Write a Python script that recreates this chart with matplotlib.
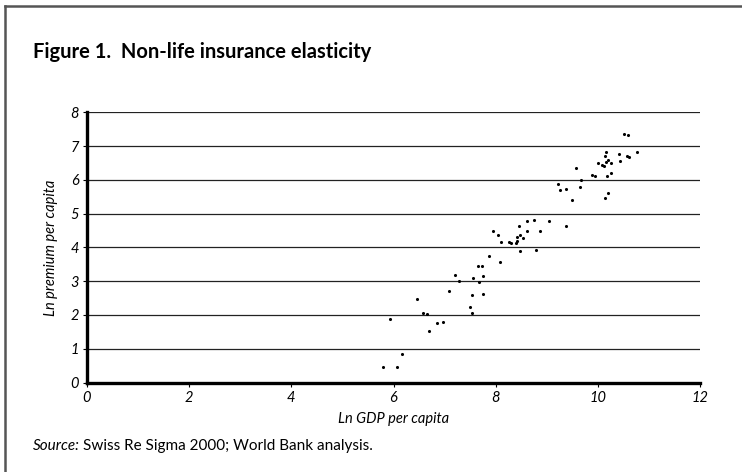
import matplotlib
matplotlib.use("Agg")
import matplotlib.pyplot as plt
from matplotlib.lines import Line2D

ln_gdp = [5.80, 6.07, 6.16, 5.94, 6.46, 6.58, 6.65, 6.70, 6.86, 6.97,
          7.08, 7.21, 7.29, 7.50, 7.53, 7.53, 7.56, 7.66, 7.68, 7.73,
          7.76, 7.76, 7.87, 7.95, 8.04, 8.09, 8.11, 8.26, 8.30, 8.40,
          8.42, 8.42, 8.45, 8.47, 8.48, 8.54, 8.61, 8.62, 8.76, 8.79,
          8.86, 9.05, 9.22, 9.26, 9.37, 9.37, 9.50, 9.58, 9.65, 9.67,
          9.88, 9.95, 10.00, 10.09, 10.12, 10.14, 10.15, 10.16, 10.16, 10.18,
          10.19, 10.19, 10.25, 10.26, 10.42, 10.43, 10.52, 10.58, 10.60, 10.61,
          10.76]
ln_premium = [0.47, 0.47, 0.83, 1.87, 2.48, 2.07, 2.04, 1.52, 1.75, 1.79,
              2.72, 3.18, 3.00, 2.23, 2.06, 2.59, 3.09, 3.46, 2.97, 3.46,
              2.62, 3.16, 3.74, 4.48, 4.37, 3.56, 4.16, 4.17, 4.14, 4.14,
              4.20, 4.31, 4.62, 4.38, 3.90, 4.28, 4.78, 4.48, 4.82, 3.91,
              4.48, 4.79, 5.87, 5.70, 5.72, 4.64, 5.40, 6.34, 5.78, 5.99,
              6.15, 6.10, 6.49, 6.43, 6.40, 6.70, 5.45, 6.83, 6.54, 6.10,
              6.58, 5.60, 6.49, 6.19, 6.76, 6.56, 7.36, 6.72, 7.33, 6.69,
              6.83]
x_ticks = [0, 2, 4, 6, 8, 10, 12]
y_ticks = [0, 1, 2, 3, 4, 5, 6, 7, 8]

W, H = 742, 472
fig = plt.figure(figsize=(W / 100, H / 100), dpi=100)
fig.patch.set_facecolor("white")
# frame: top and left edges only
fig.lines.append(Line2D([4.5 / W, 4.5 / W], [0, 1 - 5.5 / H], transform=fig.transFigure,
                        color="#555555", linewidth=1.8))
fig.lines.append(Line2D([4.5 / W, 1], [1 - 5.5 / H, 1 - 5.5 / H], transform=fig.transFigure,
                        color="#555555", linewidth=1.8))

ax = fig.add_axes([87 / W, 1 - 382.5 / H, (700 - 87) / W, (382.5 - 112.3) / H])
ax.set_xlim(0, 12)
ax.set_ylim(0, 8)
for yv in y_ticks[1:]:
    ax.axhline(yv, color="#222222", linewidth=0.9, zorder=1)
ax.scatter(ln_gdp, ln_premium, s=5, color="black", zorder=3, linewidths=0)

for s in ["top", "right"]:
    ax.spines[s].set_visible(False)
ax.spines["left"].set_linewidth(2.4)
ax.spines["bottom"].set_linewidth(2.4)
ax.set_xticks(x_ticks)
ax.set_yticks(y_ticks)
ax.tick_params(axis="both", length=3, width=0.8, direction="out", pad=3,
               labelsize=10.5)
for lab in ax.get_xticklabels() + ax.get_yticklabels():
    lab.set_fontfamily("Lato")
    lab.set_fontstyle("italic")

ax.set_xlabel("Ln GDP per capita", fontsize=10.5, fontstyle="italic", family="Lato", labelpad=5)
ax.set_ylabel("Ln premium per capita", fontsize=10.5, fontstyle="italic", family="Lato", labelpad=9)

fig.text(33 / W, 1 - 52 / H, "Figure 1.  Non-life insurance elasticity", fontsize=14.5,
         fontweight="bold", family="Lato", va="center", ha="left")
t1 = fig.text(33 / W, 1 - 446 / H, "Source:", fontsize=11, fontstyle="italic", family="Lato",
              va="center", ha="left")
fig.canvas.draw()
bb = t1.get_window_extent()
fig.text(bb.x1 / W + 0.004, 1 - 446 / H, "Swiss Re Sigma 2000; World Bank analysis.", fontsize=11,
         family="Lato", va="center", ha="left")

fig.savefig("out.png", dpi=100)
